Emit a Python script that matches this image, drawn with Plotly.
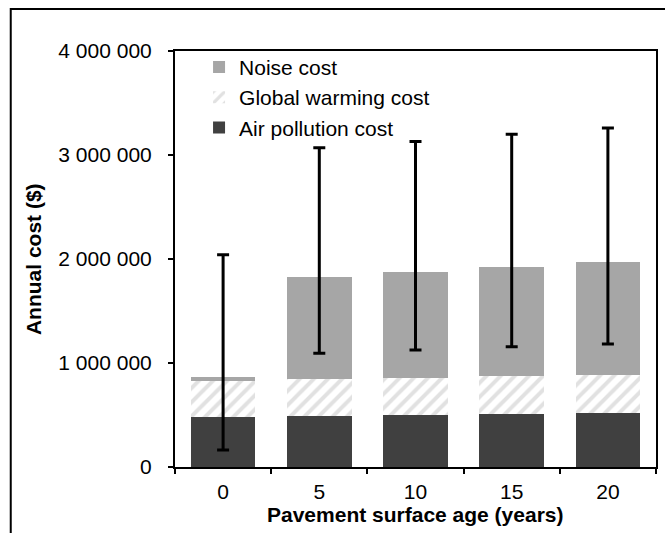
import plotly.graph_objects as go

# Pavement surface age (years) and annual cost components ($)
ages = ["0", "5", "10", "15", "20"]
air_pollution = [480000, 490000, 500000, 507000, 516000]
global_warming = [350000, 353000, 359000, 368000, 372000]
noise = [32000, 987000, 1019000, 1051000, 1086000]

# Range of the total annual cost (upper and lower error bounds)
total_high = [2040000, 3070000, 3130000, 3200000, 3260000]
total_low = [163000, 1093000, 1125000, 1157000, 1183000]

y_ticks = [0, 1000000, 2000000, 3000000, 4000000]
y_ticktext = [f"{v:,}".replace(",", " ") for v in y_ticks]

totals = [a + g + n for a, g, n in zip(air_pollution, global_warming, noise)]
err_plus = [h - t for h, t in zip(total_high, totals)]
err_minus = [t - l for l, t in zip(total_low, totals)]

FONT = "Liberation Sans, Arial, sans-serif"

fig = go.Figure()
fig.add_trace(go.Bar(
    x=ages, y=air_pollution, name="Air pollution cost",
    marker=dict(color="#404040", line=dict(width=0)),
))
fig.add_trace(go.Bar(
    x=ages, y=global_warming, name="Global warming cost",
    marker=dict(
        color="white", line=dict(width=0),
        pattern=dict(shape="/", fgcolor="#c4c4c4", bgcolor="white",
                     size=10, solidity=0.4),
    ),
))
fig.add_trace(go.Bar(
    x=ages, y=noise, name="Noise cost",
    marker=dict(color="#a6a6a6", line=dict(width=0)),
))
fig.add_trace(go.Scatter(
    x=ages, y=totals, mode="markers", showlegend=False, hoverinfo="skip",
    marker=dict(opacity=0, size=1),
    error_y=dict(type="data", symmetric=False, array=err_plus,
                 arrayminus=err_minus, color="black", thickness=3, width=6),
))

# Outer chart frame (extends past the page on the right and bottom)
fig.add_shape(type="rect", xref="paper", yref="paper",
              x0=-0.3415, x1=1.2, y0=-0.3, y1=1.101,
              line=dict(color="black", width=2), fillcolor="rgba(0,0,0,0)",
              layer="below")

fig.add_annotation(text="<b>Pavement surface age (years)</b>", xref="paper",
                   yref="paper", x=0.5, y=-0.115, xanchor="center",
                   yanchor="middle", showarrow=False,
                   font=dict(family=FONT, size=21, color="black"))
fig.add_annotation(text="<b>Annual cost ($)</b>", xref="paper", yref="paper",
                   x=-0.295, y=0.5, xanchor="center", yanchor="middle",
                   textangle=-90, showarrow=False,
                   font=dict(family=FONT, size=21, color="black"))

fig.update_layout(
    width=665, height=533,
    margin=dict(l=175, r=7, t=51, b=66),
    barmode="stack", bargap=0.33,
    paper_bgcolor="white", plot_bgcolor="white",
    font=dict(family=FONT, size=21, color="black"),
    showlegend=True,
    legend=dict(
        traceorder="reversed", x=0.05, y=1.01, xanchor="left", yanchor="top",
        bgcolor="rgba(0,0,0,0)", borderwidth=0,
        font=dict(family=FONT, size=21, color="black"),
        tracegroupgap=0, itemwidth=30,
    ),
    xaxis=dict(
        type="category", tickson="boundaries", ticks="outside", ticklen=5,
        tickwidth=2, tickcolor="black", showline=True, linecolor="black",
        linewidth=2, mirror=True, showgrid=False, zeroline=False,
        ticklabelstandoff=5,
        tickfont=dict(family=FONT, size=21, color="black"),
    ),
    yaxis=dict(
        range=[0, 4000000], tickvals=y_ticks, ticktext=y_ticktext,
        ticks="outside", ticklen=5, tickwidth=2, tickcolor="black",
        showline=True, linecolor="black", linewidth=2, mirror=True,
        showgrid=False, zeroline=False, ticklabelstandoff=12,
        tickfont=dict(family=FONT, size=21, color="black"),
    ),
)

fig.write_html("out.html")
